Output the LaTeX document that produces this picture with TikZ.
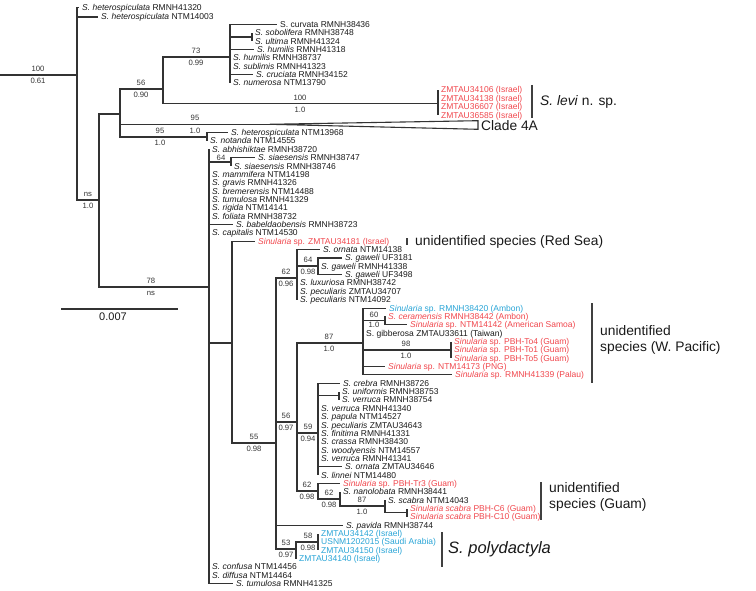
\documentclass[tikz,border=0pt]{standalone}
\usepackage{fontspec}
\setmainfont{Liberation Sans}
\definecolor{redl}{RGB}{240,70,76}
\definecolor{bluel}{RGB}{40,164,214}
\newcommand\bsv[5]{%
  \node[supt] (#1t) at (#2,#3) {#4};
  \node[supb] (#1b) at (#2,#3) {#5};}
\begin{document}
\begin{tikzpicture}[x=1pt,y=-1pt,
  br/.style={line width=1.1pt, draw=black!80},
  brk/.style={line width=1.4pt, draw=black!75},
  lf/.style={anchor=west, inner sep=0pt, inner xsep=3pt, text height=6pt, text depth=0pt,
             font=\fontsize{8.5}{9}\selectfont, text=black!90},
  rd/.style={lf, text=redl},
  bl/.style={lf, text=bluel},
  supbase/.style={inner sep=0pt, text height=5.5pt, text depth=0pt,
             font=\fontsize{7.7}{8}\selectfont, text=black!80},
  supt/.style={supbase, anchor=south, yshift=3.2pt},
  supb/.style={supbase, anchor=north, yshift=-3.2pt},
  big/.style={anchor=west, inner sep=0pt, inner xsep=2pt,
             font=\fontsize{13.8}{16}\selectfont, text=black!90}]
\useasboundingbox (0,0) rectangle (756,591);

% ---------- internal nodes
\coordinate (r0) at (0,75);
\coordinate (n1) at (77,75);
\coordinate (n2) at (99,200);
\coordinate (n3) at (120,114);
\coordinate (n4) at (163,89);
\coordinate (n5) at (230,57);
\coordinate (n5a) at (252,37);
\coordinate (nlevi) at (438,103.5);
\coordinate (c4) at (270,124.3);
\coordinate (c4t) at (478,120.7);
\coordinate (c4b) at (478,129.3);
\coordinate (n6) at (207,137);
\coordinate (n20) at (209,287);
\coordinate (n21) at (231,162);
\coordinate (n22) at (232,343);
\coordinate (n23) at (276,443);
\coordinate (n24) at (297,278);
\coordinate (n25) at (318,266);
\coordinate (n30) at (297,422);
\coordinate (n31) at (363,343);
\coordinate (n32) at (385,320.6);
\coordinate (n33) at (451,350);
\coordinate (n35) at (318,433);
\coordinate (n36) at (339,395.7);
\coordinate (n37) at (318,491);
\coordinate (n38) at (340,499);
\coordinate (n39) at (385,506);
\coordinate (n39b) at (407,512.7);
\coordinate (n40) at (296,549);
\coordinate (n41) at (318,542);

% ---------- leaves
\node[lf] (L1) at (79,7.5) {\textit{S. heterospiculata} RMNH41320};
\node[lf] (L2) at (98,17) {\textit{S. heterospiculata} NTM14003};
\node[lf] (L3) at (277,24.5) {S. curvata RMNH38436};
\node[lf] (L4) at (252,33) {\textit{S. sobolifera} RMNH38748};
\node[lf] (L5) at (252,41.3) {\textit{S. ultima} RMNH41324};
\node[lf] (L6) at (254,49.7) {\textit{S. humilis} RMNH41318};
\node[lf] (L7) at (230,58) {\textit{S. humilis} RMNH38737};
\node[lf] (L8) at (230,66.4) {\textit{S. sublimis} RMNH41323};
\node[lf] (L9) at (253,74.7) {\textit{S. cruciata} RMNH34152};
\node[lf] (L10) at (230,83) {\textit{S. numerosa} NTM13790};
\node[rd] (I1) at (438,90) {ZMTAU34106 (Israel)};
\node[rd] (I2) at (438,98.5) {ZMTAU34138 (Israel)};
\node[rd] (I3) at (438,107) {ZMTAU36607 (Israel)};
\node[rd] (I4) at (438,115.5) {ZMTAU36585 (Israel)};
\node[lf] (L15) at (228,132.7) {\textit{S. heterospiculata} NTM13968};
\node[lf] (L16) at (207,141) {\textit{S. notanda} NTM14555};
\node[lf] (L17) at (209,149.4) {\textit{S. abhishiktae} RMNH38720};
\node[lf] (L18) at (255,157.8) {\textit{S. siaesensis} RMNH38747};
\node[lf] (L19) at (231,166.1) {\textit{S. siaesensis} RMNH38746};
\node[lf] (L20) at (209,174.5) {\textit{S. mammifera} NTM14198};
\node[lf] (L21) at (209,182.8) {\textit{S. gravis} RMNH41326};
\node[lf] (L22) at (209,191.2) {\textit{S. bremerensis} NTM14488};
\node[lf] (L23) at (209,199.5) {\textit{S. tumulosa} RMNH41329};
\node[lf] (L24) at (209,207.9) {\textit{S. rigida} NTM14141};
\node[lf] (L25) at (209,216.2) {\textit{S. foliata} RMNH38732};
\node[lf] (L26) at (233,224.6) {\textit{S. babeldaobensis} RMNH38723};
\node[lf] (L27) at (209,232.9) {\textit{S. capitalis} NTM14530};
\node[rd] (L28) at (255,241.3) {\textit{Sinularia} sp. ZMTAU34181 (Israel)};
\node[lf] (L29) at (320,249.6) {\textit{S. ornata} NTM14138};
\node[lf] (L30) at (342,258) {\textit{S. gaweli} UF3181};
\node[lf] (L31) at (318,266.3) {\textit{S. gaweli} RMNH41338};
\node[lf] (L32) at (342,274.7) {\textit{S. gaweli} UF3498};
\node[lf] (L33) at (297,283) {\textit{S. luxuriosa} RMNH38742};
\node[lf] (L34) at (297,291.4) {\textit{S. peculiaris} ZMTAU34707};
\node[lf] (L35) at (297,299.7) {\textit{S. peculiaris} NTM14092};
\node[bl] (L36) at (386,308.1) {\textit{Sinularia} sp. RMNH38420 (Ambon)};
\node[rd] (L37) at (385,316.4) {\textit{S. ceramensis} RMNH38442 (Ambon)};
\node[rd] (L38) at (407,324.8) {\textit{Sinularia} sp. NTM14142 (American Samoa)};
\node[lf] (L39) at (363,333.1) {S. gibberosa ZMTAU33611 (Taiwan)};
\node[rd] (L40) at (451,341.5) {\textit{Sinularia} sp. PBH-To4 (Guam)};
\node[rd] (L41) at (451,349.8) {\textit{Sinularia} sp. PBH-To1 (Guam)};
\node[rd] (L42) at (451,358.2) {\textit{Sinularia} sp. PBH-To5 (Guam)};
\node[rd] (L43) at (385,366.5) {\textit{Sinularia} sp. NTM14173 (PNG)};
\node[rd] (L44) at (452,374.9) {\textit{Sinularia} sp. RMNH41339 (Palau)};
\node[lf] (L45) at (340,383.2) {\textit{S. crebra} RMNH38726};
\node[lf] (L46) at (339,391.6) {\textit{S. uniformis} RMNH38753};
\node[lf] (L47) at (339,399.9) {\textit{S. verruca} RMNH38754};
\node[lf] (L48) at (318,408.3) {\textit{S. verruca} RMNH41340};
\node[lf] (L49) at (318,416.6) {\textit{S. papula} NTM14527};
\node[lf] (L50) at (318,425) {\textit{S. peculiaris} ZMTAU34643};
\node[lf] (L51) at (318,433.3) {\textit{S. finitima} RMNH41331};
\node[lf] (L52) at (318,441.7) {\textit{S. crassa} RMNH38430};
\node[lf] (L53) at (318,450) {\textit{S. woodyensis} NTM14557};
\node[lf] (L54) at (318,458.4) {\textit{S. verruca} RMNH41341};
\node[lf] (L55) at (342,466.7) {\textit{S. ornata} ZMTAU34646};
\node[lf] (L56) at (318,475.1) {\textit{S. linnei} NTM14480};
\node[rd] (L57) at (340,483.4) {\textit{Sinularia} sp. PBH-Tr3 (Guam)};
\node[lf] (L58) at (340,491.8) {\textit{S. nanolobata} RMNH38441};
\node[lf] (L59) at (385,500.1) {\textit{S. scabra} NTM14043};
\node[rd] (L60) at (407,508.5) {\textit{Sinularia scabra} PBH-C6 (Guam)};
\node[rd] (L61) at (407,516.8) {\textit{Sinularia scabra} PBH-C10 (Guam)};
\node[lf] (L62) at (343,525.2) {\textit{S. pavida} RMNH38744};
\node[bl] (L63) at (318,533.5) {ZMTAU34142 (Israel)};
\node[bl] (L64) at (318,541.9) {USNM1202015 (Saudi Arabia)};
\node[bl] (L65) at (318,550.2) {ZMTAU34150 (Israel)};
\node[bl] (L66) at (296,558.6) {ZMTAU34140 (Israel)};
\node[lf] (L67) at (209,566.9) {\textit{S. confusa} NTM14456};
\node[lf] (L68) at (209,575.3) {\textit{S. diffusa} NTM14464};
\node[lf] (L69) at (233,583.6) {\textit{S. tumulosa} RMNH41325};

% ---------- branches
\draw[br] (r0) -- (n1);
\foreach \c in {L1.west,L2.west,n2} \draw[br] (n1) |- (\c);
\foreach \c in {n3,n20} \draw[br] (n2) |- (\c);
\foreach \c in {n4,c4,n6} \draw[br] (n3) |- (\c);
\foreach \c in {n5,nlevi} \draw[br] (n4) |- (\c);
\foreach \c in {L3.west,n5a,L6.west,L7.west,L8.west,L9.west,L10.west} \draw[br] (n5) |- (\c);
\foreach \c in {L4.west,L5.west} \draw[br] (n5a) |- (\c);
\foreach \c in {I1.west,I2.west,I3.west,I4.west} \draw[br] (nlevi) |- (\c);
\draw[br] (c4) -- (c4t) -- (c4b) -- cycle;
\foreach \c in {L15.west,L16.west} \draw[br] (n6) |- (\c);
\foreach \c in {L17.west,n21,L20.west,L21.west,L22.west,L23.west,L24.west,L25.west,L26.west,L27.west,n22,L67.west,L68.west,L69.west} \draw[br] (n20) |- (\c);
\foreach \c in {L18.west,L19.west} \draw[br] (n21) |- (\c);
\foreach \c in {L28.west,n23} \draw[br] (n22) |- (\c);
\foreach \c in {n24,n30,L62.west,n40} \draw[br] (n23) |- (\c);
\foreach \c in {L29.west,n25,L33.west,L34.west,L35.west} \draw[br] (n24) |- (\c);
\foreach \c in {L30.west,L31.west,L32.west} \draw[br] (n25) |- (\c);
\foreach \c in {n31,n35,n37} \draw[br] (n30) |- (\c);
\foreach \c in {L36.west,n32,L39.west,n33,L43.west,L44.west} \draw[br] (n31) |- (\c);
\foreach \c in {L37.west,L38.west} \draw[br] (n32) |- (\c);
\foreach \c in {L40.west,L41.west,L42.west} \draw[br] (n33) |- (\c);
\foreach \c in {L45.west,n36,L48.west,L49.west,L50.west,L51.west,L52.west,L53.west,L54.west,L55.west,L56.west} \draw[br] (n35) |- (\c);
\foreach \c in {L46.west,L47.west} \draw[br] (n36) |- (\c);
\foreach \c in {L57.west,n38} \draw[br] (n37) |- (\c);
\foreach \c in {L58.west,n39} \draw[br] (n38) |- (\c);
\foreach \c in {L59.west,n39b} \draw[br] (n39) |- (\c);
\foreach \c in {L60.west,L61.west} \draw[br] (n39b) |- (\c);
\foreach \c in {n41,L66.west} \draw[br] (n40) |- (\c);
\foreach \c in {L63.west,L64.west,L65.west} \draw[br] (n41) |- (\c);

% ---------- support values
\bsv{s1}{38}{75}{100}{0.61}
\bsv{s2}{88}{200}{ns}{1.0}
\bsv{s3}{141}{89}{56}{0.90}
\bsv{s4}{196}{57}{73}{0.99}
\bsv{s5}{300}{103.5}{100}{1.0}
\bsv{s6}{195}{124.3}{95}{1.0}
\bsv{s7}{160}{137}{95}{1.0}
\bsv{s8}{151}{287}{78}{ns}
\node[supt, yshift=-1.6pt] (s9t) at (221,162) {64};
\bsv{s10}{286}{278}{62}{0.96}
\bsv{s11}{308}{266}{64}{0.98}
\bsv{s12}{254}{443}{55}{0.98}
\bsv{s13}{286}{422}{56}{0.97}
\bsv{s14}{329}{343}{87}{1.0}
\node[supt] (s15t) at (374,320.6) {60};
\node[supb, yshift=2pt] (s15b) at (374,320.6) {1.0};
\bsv{s16}{406}{350}{98}{1.0}
\bsv{s17}{308}{433}{59}{0.94}
\bsv{s18}{307}{491}{62}{0.98}
\bsv{s19}{329}{499}{62}{0.98}
\bsv{s20}{362}{506}{87}{1.0}
\bsv{s21}{286}{549}{53}{0.97}
\bsv{s22}{308}{542}{58}{0.98}

% ---------- clade labels
\node[big] (C4) at (479,125.5) {Clade 4A};
\coordinate (k1a) at (532,85); \coordinate (k1b) at (532,118);
\draw[brk] (k1a) -- (k1b);
\node[big] (T1) at (538,102) {\textit{S. levi} n. sp.};
\coordinate (k2a) at (407,238.5); \coordinate (k2b) at (407,245);
\draw[brk] (k2a) -- (k2b);
\node[big] (T2) at (413,242) {unidentified species (Red Sea)};
\coordinate (k3a) at (592,303); \coordinate (k3b) at (592,383);
\draw[brk] (k3a) -- (k3b);
\node[big, align=left] (T3) at (598,340) {unidentified\\species (W. Pacific)};
\coordinate (k4a) at (541,482); \coordinate (k4b) at (541,520);
\draw[brk] (k4a) -- (k4b);
\node[big, align=left] (T4) at (547,497) {unidentified\\species (Guam)};
\coordinate (k5a) at (442,532); \coordinate (k5b) at (442,567);
\draw[brk] (k5a) -- (k5b);
\node[big, font=\fontsize{16.5}{18}\selectfont] (T5) at (446,549.5) {\textit{S. polydactyla}};

% ---------- scale bar
\coordinate (sb1) at (61,309); \coordinate (sb2) at (178,309);
\draw[br] (sb1) -- (sb2);
\node[inner sep=0pt, font=\fontsize{11}{12}\selectfont, text=black!90] (sbl) at (113,317) {0.007};
\end{tikzpicture}
\end{document}
